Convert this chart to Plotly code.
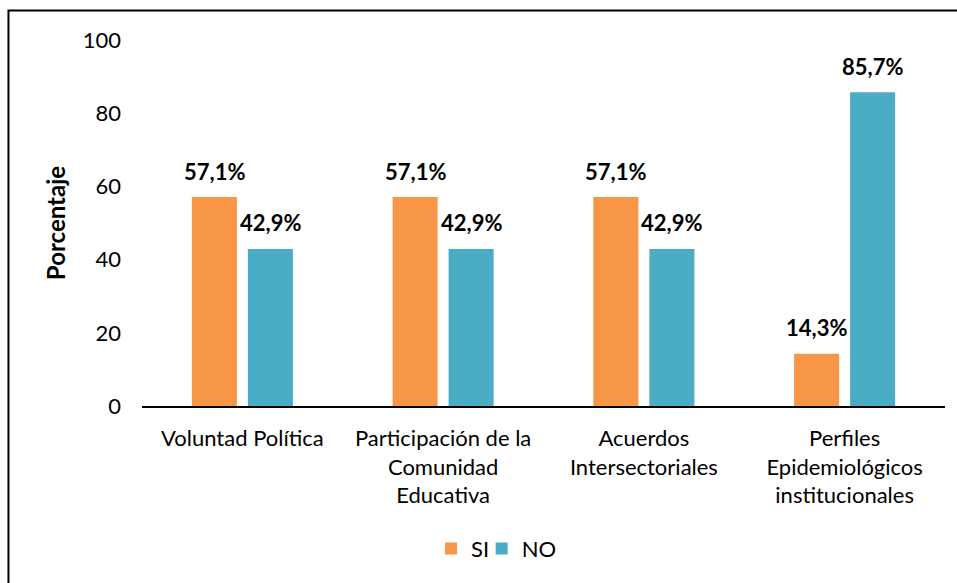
import plotly.graph_objects as go

categories = ["Voluntad Política", "Participación de la<br>Comunidad<br>Educativa",
              "Acuerdos<br>Intersectoriales", "Perfiles<br>Epidemiológicos<br>institucionales"]
si_values = [57.1, 57.1, 57.1, 14.3]
no_values = [42.9, 42.9, 42.9, 85.7]
y_ticks = [0, 20, 40, 60, 80, 100]

ORANGE = "#F79646"
TEAL = "#4BACC6"
FONT = "Lato, Carlito, Calibri, sans-serif"
FS = 22

def fmt(v):
    return f"{v:.1f}".replace(".", ",") + "%"

fig = go.Figure()
fig.add_trace(go.Bar(name="SI", x=categories, y=si_values, marker_color=ORANGE,
                     marker_line_width=0, legend="legend"))
fig.add_trace(go.Bar(name="NO", x=categories, y=no_values, marker_color=TEAL,
                     marker_line_width=0, legend="legend2"))

annotations = []
for series, shift in ((si_values, -28), (no_values, 28)):
    for c, v in zip(categories, series):
        annotations.append(dict(x=c, y=v, xref="x", yref="y", text="<b>" + fmt(v) + "</b>",
                                showarrow=False, xshift=shift, yshift=26,
                                font=dict(family=FONT, size=FS, color="black")))

legend_style = dict(orientation="h", xanchor="left", y=-0.39, yanchor="middle",
                    font=dict(family=FONT, size=FS, color="black"),
                    bgcolor="rgba(0,0,0,0)")

fig.update_layout(
    width=957, height=583,
    margin=dict(l=142, r=12, t=40, b=177),
    paper_bgcolor="white", plot_bgcolor="white",
    barmode="group", bargap=0.442, bargroupgap=0.196,
    font=dict(family=FONT, size=FS, color="black"),
    showlegend=True,
    legend=dict(x=0.36, **legend_style),
    legend2=dict(x=0.423, **legend_style),
    annotations=annotations,
    shapes=[dict(type="rect", xref="paper", yref="paper", x0=-0.1663, x1=1.2,
                 y0=-0.8, y1=1.0806, line=dict(color="black", width=2),
                 fillcolor="rgba(0,0,0,0)", layer="above")],
)
fig.update_yaxes(range=[0, 100], tickvals=y_ticks, showgrid=False, zeroline=False,
                 showline=False, ticks="", ticklabelstandoff=20,
                 title=dict(text="<b>Porcentaje</b>", standoff=10,
                            font=dict(family=FONT, size=24, color="black")),
                 tickfont=dict(family=FONT, size=FS, color="black"))
fig.update_xaxes(showline=True, linecolor="black", linewidth=1.5, showgrid=False,
                 ticks="", ticklabelstandoff=12,
                 tickfont=dict(family=FONT, size=FS, color="black"))

fig.write_html("out.html", config={"displayModeBar": False},
               post_script="document.body.style.margin='0';")
